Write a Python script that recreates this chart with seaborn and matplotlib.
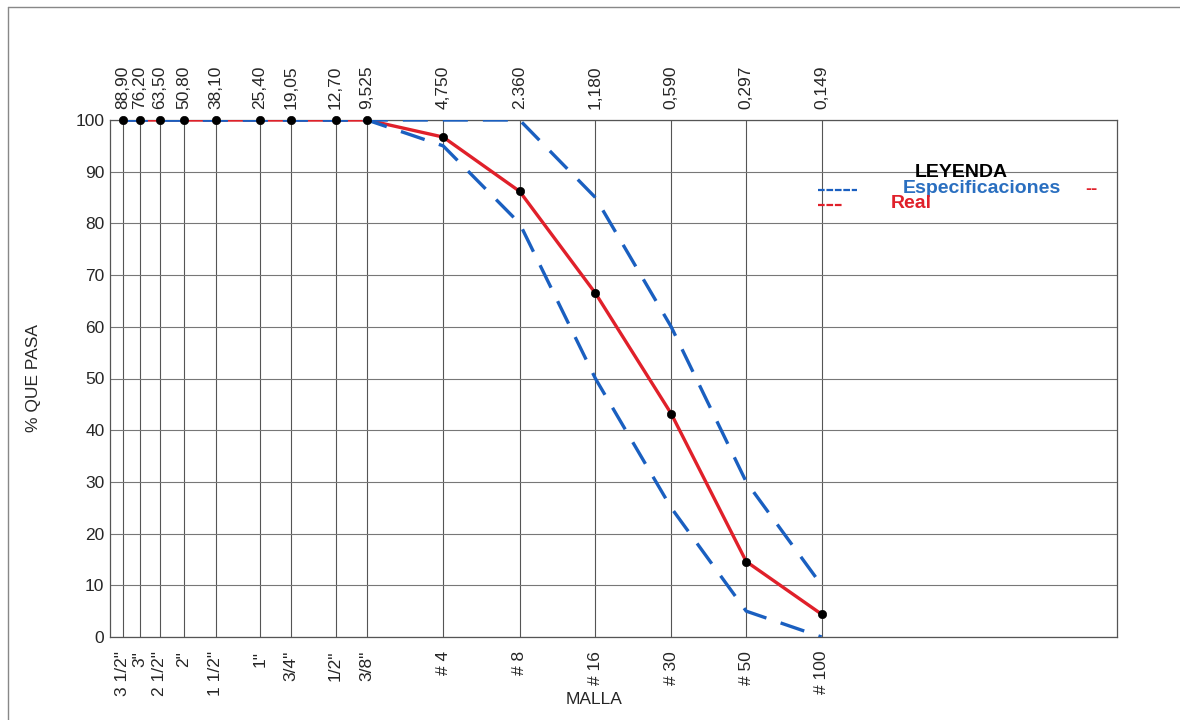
import matplotlib
matplotlib.use("Agg")
import matplotlib.pyplot as plt
from matplotlib.lines import Line2D
from matplotlib.ticker import NullLocator, FixedLocator
import seaborn as sns
import pandas as pd

# ---- data ----
sizes_mm = [88.90, 76.20, 63.50, 50.80, 38.10, 25.40, 19.05, 12.70, 9.525,
            4.750, 2.360, 1.180, 0.590, 0.297, 0.149]
top_labels = ["88,90", "76,20", "63,50", "50,80", "38,10", "25,40", "19,05",
              "12,70", "9,525", "4,750", "2.360", "1,180", "0,590", "0,297", "0,149"]
sieve_labels = ['3 1/2"', '3"', '2 1/2"', '2"', '1 1/2"', '1"', '3/4"', '1/2"',
                '3/8"', '# 4', '# 8', '# 16', '# 30', '# 50', '# 100']
real_pass = [100, 100, 100, 100, 100, 100, 100, 100, 100,
             96.7, 86.2, 66.5, 43.2, 14.6, 4.4]
spec_upper = [100, 100, 100, 100, 100, 100, 100, 100, 100,
              100, 100, 85, 60, 30, 10]
spec_lower = [100, 100, 100, 100, 100, 100, 100, 100, 100,
              95, 80, 50, 25, 5, 0]
y_ticks = [0, 10, 20, 30, 40, 50, 60, 70, 80, 90, 100]

df = pd.DataFrame({"size": sizes_mm, "real": real_pass,
                   "upper": spec_upper, "lower": spec_lower})

sns.set_style("white")
plt.rcParams["font.family"] = ["Liberation Sans", "DejaVu Sans"]

RED = "#e0202a"
BLUE = "#1a5fc0"

fig = plt.figure(figsize=(11.8, 7.2), dpi=100)
ax = fig.add_axes([110 / 1180, 1 - 637 / 720, 1007 / 1180, 517 / 720])

sns.lineplot(data=df, x="size", y="real", ax=ax, color=RED, lw=2.4,
             estimator=None, sort=False, zorder=3)
for col in ["upper", "lower"]:
    sns.lineplot(data=df, x="size", y=col, ax=ax, color=BLUE, lw=2.4,
                 estimator=None, sort=False, linestyle=(0, (7.5, 4.5)), zorder=4)
sns.scatterplot(data=df, x="size", y="real", ax=ax, color="black", s=36,
                edgecolor="black", zorder=5, clip_on=False)

ax.set_xscale("log")
ax.set_xlim(100, 0.01)
ax.set_ylim(0, 100)
ax.xaxis.set_major_locator(FixedLocator(sizes_mm))
ax.xaxis.set_minor_locator(NullLocator())
ax.set_xticklabels(sieve_labels, rotation=90, fontsize=12.5, va="top")
ax.set_yticks(y_ticks)
ax.set_yticklabels([str(v) for v in y_ticks], fontsize=12.5)
ax.tick_params(axis="x", length=0, pad=10)
ax.tick_params(axis="y", length=0, pad=4)

ax.grid(True, axis="x", color="#555555", lw=0.8)
ax.grid(True, axis="y", color="#777777", lw=0.8)
for s in ax.spines.values():
    s.set_color("#555555")
    s.set_linewidth(0.9)

secax = ax.secondary_xaxis("top")
secax.xaxis.set_major_locator(FixedLocator(sizes_mm))
secax.xaxis.set_minor_locator(NullLocator())
secax.set_xticklabels(top_labels, rotation=90, fontsize=12.5)
secax.tick_params(length=0, pad=8)
secax.spines["top"].set_visible(False)

ax.set_xlabel("")
ax.set_ylabel("% QUE PASA", fontsize=12.5)
ax.yaxis.set_label_coords(-0.069, 0.5)
fig.text(594 / 1180, 1 - 700 / 720, "MALLA", ha="center", va="center", fontsize=12.5)

# legend block
tr = ax.transAxes
ax.text(0.845, 0.899, "LEYENDA", transform=tr, ha="center", va="center",
        fontsize=14, fontweight="bold", color="black")
ax.text(0.7875, 0.867, "Especificaciones", transform=tr, ha="left", va="center",
        fontsize=14, fontweight="bold", color="#2a6fc0")
ax.text(0.7756, 0.838, "Real", transform=tr, ha="left", va="center",
        fontsize=14, fontweight="bold", color=RED)
ax.add_line(Line2D([0.703, 0.742], [0.865, 0.865], transform=tr, color=BLUE,
                   lw=1.6, linestyle=(0, (3, 0.8))))
ax.add_line(Line2D([0.703, 0.727], [0.836, 0.836], transform=tr, color=RED,
                   lw=1.6, linestyle=(0, (3, 0.8))))
ax.text(0.968, 0.865, "--", transform=tr, ha="left", va="center",
        fontsize=13, fontweight="bold", color=RED)

# outer frame of the sheet
fig.add_artist(Line2D([8 / 1180, 1.0], [1 - 7 / 720, 1 - 7 / 720],
                      transform=fig.transFigure, color="#888888", lw=1))
fig.add_artist(Line2D([8 / 1180, 8 / 1180], [0.0, 1 - 7 / 720],
                      transform=fig.transFigure, color="#888888", lw=1))

fig.savefig("out.png", dpi=100)
